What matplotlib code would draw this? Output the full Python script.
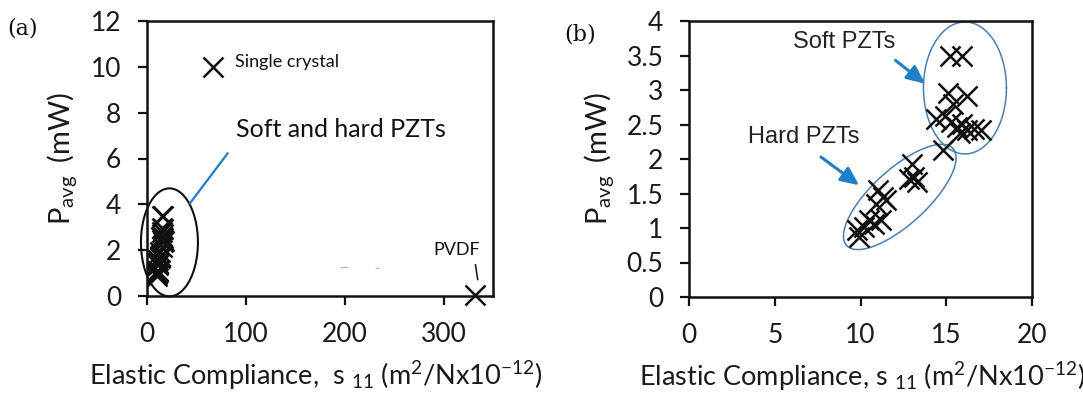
import numpy as np
import matplotlib
matplotlib.use("Agg")
import matplotlib.pyplot as plt

plt.rcParams["font.family"] = ["Lato", "DejaVu Sans"]
plt.rcParams["mathtext.fontset"] = "custom"
plt.rcParams["mathtext.rm"] = "Lato"
plt.rcParams["mathtext.it"] = "Lato:italic"
plt.rcParams["mathtext.default"] = "regular"

# PZT ceramics: elastic compliance s11 (1e-12 m^2/N) vs average power (mW)
soft_s11 = [15.2, 15.9, 15.1, 16.2, 15.4, 14.4, 14.9, 15.3, 15.6, 15.9, 16.2, 16.6, 17.0, 15.8, 14.8]
soft_p = [3.50, 3.50, 2.95, 2.92, 2.80, 2.58, 2.63, 2.54, 2.46, 2.51, 2.42, 2.44, 2.42, 2.37, 2.13]
hard_s11 = [13.0, 13.1, 13.3, 12.8, 11.0, 11.3, 11.5, 10.9, 9.9, 10.2, 10.5, 10.8, 11.2, 9.8]
hard_p = [1.93, 1.74, 1.67, 1.71, 1.55, 1.45, 1.40, 1.35, 0.87, 1.01, 1.11, 1.06, 1.11, 0.97]

single_crystal = (66.5, 10.0)
pvdf = (332, 0.05)

xticks_a = [0, 100, 200, 300]
yticks_a = [0, 2, 4, 6, 8, 10, 12]
xticks_b = [0, 5, 10, 15, 20]
yticks_b = [0, 0.5, 1, 1.5, 2, 2.5, 3, 3.5, 4]
ytick_labels_b = ["0", "0.5", "1", "1.5", "2", "2.5", "3", "3.5", "4"]

ink = "#111111"
text_ink = "#1a1a1a"
blue_line = "#1f7fc8"
ell_blue = "#4a7fb5"

W, H = 1083, 400
fig = plt.figure(figsize=(W / 100, H / 100), dpi=100)


def px_rect(left, top, right, bottom):
    return [left / W, 1 - bottom / H, (right - left) / W, (bottom - top) / H]


ax_a = fig.add_axes(px_rect(147, 21, 493, 296))
ax_b = fig.add_axes(px_rect(689, 21, 1032, 297))


def style_axes(ax):
    for sp in ax.spines.values():
        sp.set_linewidth(1.8)
        sp.set_color(ink)
    ax.tick_params(direction="out", length=6.5, width=1.6, colors=ink,
                   labelsize=19, labelcolor=text_ink)
    ax.tick_params(axis="x", pad=12)
    ax.tick_params(axis="y", pad=12)


def pixel_ellipse(ax, cx, cy, a_px, b_px, angle_deg, **kw):
    """Ellipse with semi-axes given in screen pixels, centred at a data point."""
    c = ax.transData.transform((cx, cy))
    t = np.linspace(0, 2 * np.pi, 400)
    th = np.deg2rad(angle_deg)
    ex = a_px * np.cos(t)
    ey = b_px * np.sin(t)
    px = c[0] + ex * np.cos(th) - ey * np.sin(th)
    py = c[1] + ex * np.sin(th) + ey * np.cos(th)
    d = ax.transData.inverted().transform(np.column_stack([px, py]))
    ax.plot(d[:, 0], d[:, 1], clip_on=False, **kw)


mk = dict(marker="x", ls="none", ms=15, mew=1.8, color=ink, clip_on=False, zorder=3)
xlab_kw = dict(fontsize=19.5, color=text_ink)
ylab_kw = dict(fontsize=21, color=text_ink)
ylabel_text = r"$P_{avg}\;\;(mW)$"

# ---- (a) overview ----
ax_a.set_xlim(0, 350)
ax_a.set_ylim(0, 12)
style_axes(ax_a)
ax_a.set_xticks(xticks_a)
ax_a.set_yticks(yticks_a)
ax_a.plot(soft_s11 + hard_s11, soft_p + hard_p, **mk)
ax_a.plot(*single_crystal, **mk)
ax_a.plot(*pvdf, **mk)
pixel_ellipse(ax_a, 22.7, 2.34, 28.5, 54, 0, color=ink, lw=1.5)
ax_a.plot([43.7, 81.5], [4.06, 6.22], color=blue_line, lw=1.6)
ax_a.text(90.5, 7.27, "Soft and hard PZTs", fontsize=18, va="center", ha="left", color=ink)
ax_a.text(89.2, 10.2, "Single crystal", fontsize=13, va="center", ha="left", color=ink)
ax_a.text(313, 2.0, "PVDF", fontsize=13, va="center", ha="center", color=ink)
ax_a.plot([332.3, 334.5], [1.36, 0.72], color=ink, lw=1.1)
ax_a.plot([196, 202], [1.27, 1.27], color="#bbbbbb", lw=1.0)
ax_a.plot([232, 234], [1.23, 1.23], color="#bbbbbb", lw=1.0)
ax_a.set_xlabel(r"Elastic Compliance,  s $_{11}$ (m$^{2}$/Nx10$^{-12}$)", **xlab_kw)
ax_a.set_ylabel(ylabel_text, **ylab_kw)
ax_a.xaxis.label.set_va("center")
ax_a.yaxis.label.set_va("center")
ax_a.xaxis.set_label_coords(0.488, -0.29)
ax_a.yaxis.set_label_coords(-0.246, 0.5)
fig.text(23 / W, 1 - 29 / H, "(a)", fontsize=16, family="DejaVu Serif",
         ha="center", va="center", color=ink)

# ---- (b) PZT detail ----
ax_b.set_xlim(0, 20)
ax_b.set_ylim(0, 4)
style_axes(ax_b)
ax_b.set_xticks(xticks_b)
ax_b.set_yticks(yticks_b)
ax_b.set_yticklabels(ytick_labels_b)
ax_b.plot(soft_s11, soft_p, **mk)
ax_b.plot(hard_s11, hard_p, **mk)
pixel_ellipse(ax_b, 16.09, 3.03, 41.5, 66, 0, color=ell_blue, lw=1.1)
pixel_ellipse(ax_b, 12.29, 1.45, 72, 27.5, 42.4, color=ell_blue, lw=1.1)

arrow_kw = dict(arrowstyle="-|>,head_length=1.1,head_width=0.5", color=blue_line, lw=2.2,
                shrinkA=0, shrinkB=0)
ax_b.annotate("", xy=(13.77, 3.09), xytext=(12.04, 3.43), xycoords="data", arrowprops=arrow_kw)
ax_b.annotate("", xy=(9.92, 1.62), xytext=(7.69, 2.03), xycoords="data", arrowprops=arrow_kw)
ax_b.text(9.07, 3.70, "Soft PZTs", fontsize=17, family="Liberation Sans",
          ha="center", va="center", color="#222222")
ax_b.text(6.68, 2.32, "Hard PZTs", fontsize=17, family="Liberation Sans",
          ha="center", va="center", color="#222222")
ax_b.set_xlabel(r"Elastic Compliance, s $_{11}$ (m$^{2}$/Nx10$^{-12}$)", **xlab_kw)
ax_b.set_ylabel(ylabel_text, **ylab_kw)
ax_b.xaxis.label.set_va("center")
ax_b.yaxis.label.set_va("center")
ax_b.xaxis.set_label_coords(0.504, -0.29)
ax_b.yaxis.set_label_coords(-0.262, 0.5)
fig.text(580 / W, 1 - 35 / H, "(b)", fontsize=16, family="DejaVu Serif",
         ha="center", va="center", color=ink)

fig.savefig("out.png", dpi=100)
